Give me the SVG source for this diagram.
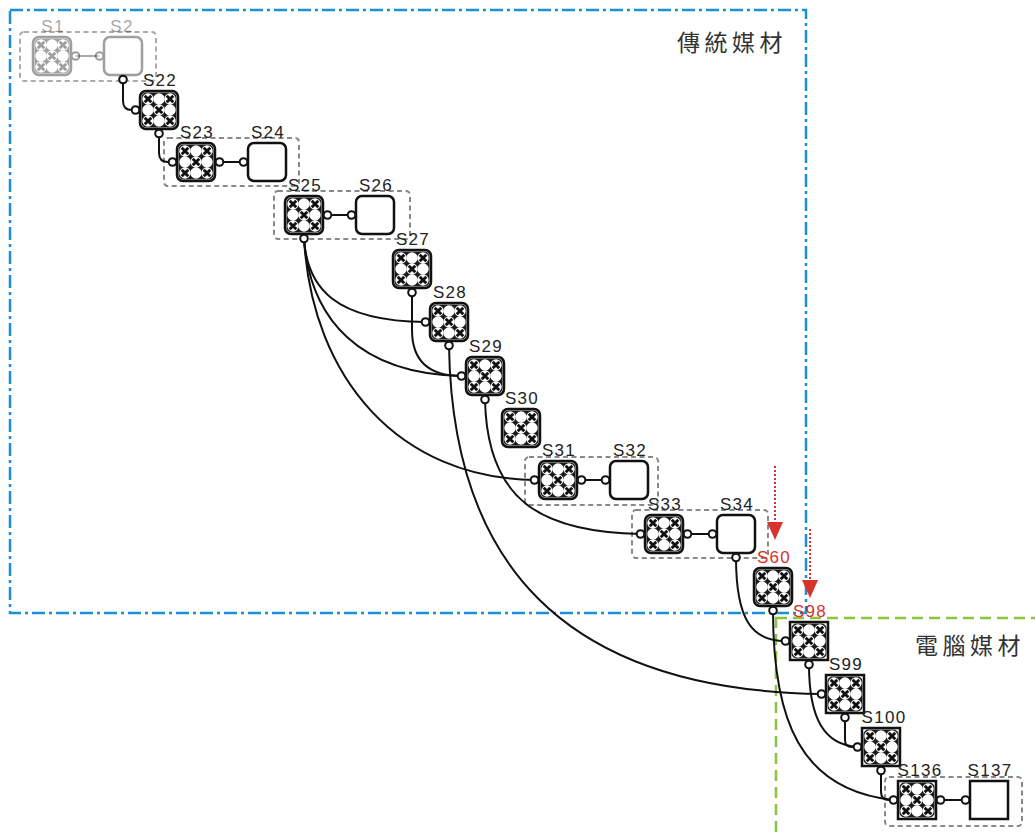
<svg xmlns="http://www.w3.org/2000/svg" xmlns:xlink="http://www.w3.org/1999/xlink" width="1035" height="832" viewBox="0 0 1035 832">
<style>
.nb{fill:none;stroke:#111;stroke-width:2.5}
.pt{fill:#fff;stroke:#111;stroke-width:2}
.ln{fill:none;stroke:#111;stroke-width:2}
.lb{font-family:"Liberation Sans",Arial,sans-serif;font-size:17px;fill:#222;text-anchor:middle;letter-spacing:1.3px}
.red{fill:#d8322a}
.grp{fill:none;stroke:#888;stroke-width:2;stroke-dasharray:5 3.5}
.ttl{font-family:"Noto Sans CJK TC","Noto Sans CJK SC",sans-serif;font-size:23px;fill:#333;letter-spacing:4.5px}
.arr{stroke:#d8322a;stroke-width:2;stroke-dasharray:2 2;fill:none}
</style>
<defs>
<symbol id="xf" viewBox="0 0 38 38">
<rect x="1.5" y="1.5" width="35" height="35" rx="5" fill="#1a1a1a"/>
<g fill="#fff">
<circle cx="8" cy="8" r="5.7"/><circle cx="19" cy="8" r="5.7"/><circle cx="30" cy="8" r="5.7"/>
<circle cx="8" cy="19" r="5.7"/><circle cx="19" cy="19" r="5.7"/><circle cx="30" cy="19" r="5.7"/>
<circle cx="8" cy="30" r="5.7"/><circle cx="19" cy="30" r="5.7"/><circle cx="30" cy="30" r="5.7"/>
</g>
<path d="M4.7,4.7L11.3,11.3M11.3,4.7L4.7,11.3M26.7,4.7L33.3,11.3M33.3,4.7L26.7,11.3M15.7,15.7L22.3,22.3M22.3,15.7L15.7,22.3M4.7,26.7L11.3,33.3M11.3,26.7L4.7,33.3M26.7,26.7L33.3,33.3M33.3,26.7L26.7,33.3" stroke="#111" stroke-width="2.9"/>
</symbol>
</defs>
<rect width="1035" height="832" fill="#fff"/>

<g id="regions">
<rect x="10" y="10" width="796" height="603" fill="none" stroke="#1a8fd8" stroke-width="2.5" stroke-dasharray="13 4 3 4"/>
<rect x="776" y="618" width="300" height="300" fill="none" stroke="#8cc43f" stroke-width="2.5" stroke-dasharray="11 6"/>
<text class="ttl" x="677" y="51">傳統媒材</text>
<text class="ttl" x="915" y="654">電腦媒材</text>
</g>

<g id="groups">
<rect class="grp" x="20" y="32" width="136" height="49" rx="4" opacity="0.7"/>
<rect class="grp" x="164" y="138" width="135" height="48" rx="4"/>
<rect class="grp" x="274" y="191" width="136" height="48" rx="4"/>
<rect class="grp" x="525" y="457" width="133" height="48" rx="4"/>
<rect class="grp" x="632" y="510" width="136" height="48" rx="4"/>
<rect class="grp" x="885" y="777" width="137" height="49" rx="4"/>
</g>

<g id="connectors">
<path d="M75.5,56H99.5" stroke="#aaa" stroke-width="2" fill="none"/>
<path class="ln" d="M123,79.5V101Q123,110 132,110H135.5"/>
<path class="ln" d="M159,133.5V153Q159,162 168,162H172.5"/>
<path class="ln" d="M219.5,162H243.5"/>
<path class="ln" d="M327.5,215H351.5"/>
<path class="ln" d="M304,238.5C307,288 335,321 425.5,322"/>
<path class="ln" d="M304,238.5C310,320 360,374 461.5,376"/>
<path class="ln" d="M304,238.5C312,380 400,478 534.5,480"/>
<path class="ln" d="M412,292.5V330C412,362 430,376 461.5,376"/>
<path class="ln" d="M449,345.5C452,560 560,690 821.5,694"/>
<path class="ln" d="M485,399.5C487,500 540,532 640.5,534"/>
<path class="ln" d="M581.5,480H605.5"/>
<path class="ln" d="M687.5,534H712.5"/>
<path class="ln" d="M736,557.5C736,620 752,641 785.5,641"/>
<path class="ln" d="M773,610.5C773,720 800,790 893.5,800"/>
<path class="ln" d="M809,664.5C809,720 825,745 857.5,747"/>
<path class="ln" d="M845,717.5V740Q845,747 852,747H857.5"/>
<path class="ln" d="M881,770.5V792Q881,800 889,800H893.5"/>
<path class="ln" d="M940.5,800H965.5"/>
</g>

<g id="arrows">
<path class="arr" d="M775,466V524"/>
<polygon points="767,522 783,522 775,540" fill="#d8322a"/>
<path class="arr" d="M810,529V582"/>
<polygon points="802,580 818,580 810,598" fill="#d8322a"/>
</g>

<g id="S1" opacity="0.4">
<use xlink:href="#xf" x="33" y="37" width="38" height="38"/>
<rect class="nb" x="33" y="37" width="38" height="38" rx="6"/>
<circle class="pt" cx="75.5" cy="56" r="3.8"/>
<text class="lb" x="53" y="32">S1</text>
</g>
<g id="S2" opacity="0.4">
<rect class="nb" x="104" y="37" width="38" height="38" rx="6" fill="#fff"/>
<circle class="pt" cx="99.5" cy="56" r="3.8"/>
<text class="lb" x="122" y="32">S2</text>
</g>
<g id="S2port"><circle class="pt" cx="123" cy="79.5" r="3.8"/></g>

<g id="S22">
<use xlink:href="#xf" x="140" y="91" width="38" height="38"/>
<rect class="nb" x="140" y="91" width="38" height="38" rx="6"/>
<circle class="pt" cx="135.5" cy="110" r="3.8"/><circle class="pt" cx="159" cy="133.5" r="3.8"/>
<text class="lb" x="160" y="86">S22</text>
</g>
<g id="S23">
<use xlink:href="#xf" x="177" y="143" width="38" height="38"/>
<rect class="nb" x="177" y="143" width="38" height="38" rx="6"/>
<circle class="pt" cx="172.5" cy="162" r="3.8"/><circle class="pt" cx="219.5" cy="162" r="3.8"/>
<text class="lb" x="197" y="138">S23</text>
</g>
<g id="S24">
<rect class="nb" x="248" y="143" width="38" height="38" rx="6"/>
<circle class="pt" cx="243.5" cy="162" r="3.8"/>
<text class="lb" x="268" y="138">S24</text>
</g>
<g id="S25">
<use xlink:href="#xf" x="285" y="196" width="38" height="38"/>
<rect class="nb" x="285" y="196" width="38" height="38" rx="6"/>
<circle class="pt" cx="327.5" cy="215" r="3.8"/><circle class="pt" cx="304" cy="238.5" r="3.8"/>
<text class="lb" x="305" y="191">S25</text>
</g>
<g id="S26">
<rect class="nb" x="356" y="196" width="38" height="38" rx="6"/>
<circle class="pt" cx="351.5" cy="215" r="3.8"/>
<text class="lb" x="376" y="191">S26</text>
</g>
<g id="S27">
<use xlink:href="#xf" x="393" y="250" width="38" height="38"/>
<rect class="nb" x="393" y="250" width="38" height="38" rx="6"/>
<circle class="pt" cx="412" cy="292.5" r="3.8"/>
<text class="lb" x="413" y="245">S27</text>
</g>
<g id="S28">
<use xlink:href="#xf" x="430" y="303" width="38" height="38"/>
<rect class="nb" x="430" y="303" width="38" height="38" rx="6"/>
<circle class="pt" cx="425.5" cy="322" r="3.8"/><circle class="pt" cx="449" cy="345.5" r="3.8"/>
<text class="lb" x="450" y="298">S28</text>
</g>
<g id="S29">
<use xlink:href="#xf" x="466" y="357" width="38" height="38"/>
<rect class="nb" x="466" y="357" width="38" height="38" rx="6"/>
<circle class="pt" cx="461.5" cy="376" r="3.8"/><circle class="pt" cx="485" cy="399.5" r="3.8"/>
<text class="lb" x="486" y="352">S29</text>
</g>
<g id="S30">
<use xlink:href="#xf" x="502" y="409" width="38" height="38"/>
<rect class="nb" x="502" y="409" width="38" height="38" rx="6"/>
<text class="lb" x="522" y="404">S30</text>
</g>
<g id="S31">
<use xlink:href="#xf" x="539" y="461" width="38" height="38"/>
<rect class="nb" x="539" y="461" width="38" height="38" rx="6"/>
<circle class="pt" cx="534.5" cy="480" r="3.8"/><circle class="pt" cx="581.5" cy="480" r="3.8"/>
<text class="lb" x="559" y="456">S31</text>
</g>
<g id="S32">
<rect class="nb" x="610" y="461" width="38" height="38" rx="6"/>
<circle class="pt" cx="605.5" cy="480" r="3.8"/>
<text class="lb" x="630" y="456">S32</text>
</g>
<g id="S33">
<use xlink:href="#xf" x="645" y="515" width="38" height="38"/>
<rect class="nb" x="645" y="515" width="38" height="38" rx="6"/>
<circle class="pt" cx="640.5" cy="534" r="3.8"/><circle class="pt" cx="687.5" cy="534" r="3.8"/>
<text class="lb" x="665" y="510">S33</text>
</g>
<g id="S34">
<rect class="nb" x="717" y="515" width="38" height="38" rx="6"/>
<circle class="pt" cx="712.5" cy="534" r="3.8"/><circle class="pt" cx="736" cy="557.5" r="3.8"/>
<text class="lb" x="737" y="510">S34</text>
</g>
<g id="S60">
<use xlink:href="#xf" x="754" y="568" width="38" height="38"/>
<rect class="nb" x="754" y="568" width="38" height="38" rx="6"/>
<circle class="pt" cx="773" cy="610.5" r="3.8"/>
<text class="lb red" x="774" y="563">S60</text>
</g>
<g id="S98">
<use xlink:href="#xf" x="790" y="622" width="38" height="38"/>
<rect class="nb" x="790" y="622" width="38" height="38"/>
<circle class="pt" cx="785.5" cy="641" r="3.8"/><circle class="pt" cx="809" cy="664.5" r="3.8"/>
<text class="lb red" x="810" y="617">S98</text>
</g>
<g id="S99">
<use xlink:href="#xf" x="826" y="675" width="38" height="38"/>
<rect class="nb" x="826" y="675" width="38" height="38"/>
<circle class="pt" cx="821.5" cy="694" r="3.8"/><circle class="pt" cx="845" cy="717.5" r="3.8"/>
<text class="lb" x="846" y="670">S99</text>
</g>
<g id="S100">
<use xlink:href="#xf" x="862" y="728" width="38" height="38"/>
<rect class="nb" x="862" y="728" width="38" height="38"/>
<circle class="pt" cx="857.5" cy="747" r="3.8"/><circle class="pt" cx="881" cy="770.5" r="3.8"/>
<text class="lb" x="884" y="723">S100</text>
</g>
<g id="S136">
<use xlink:href="#xf" x="898" y="781" width="38" height="38"/>
<rect class="nb" x="898" y="781" width="38" height="38"/>
<circle class="pt" cx="893.5" cy="800" r="3.8"/><circle class="pt" cx="940.5" cy="800" r="3.8"/>
<text class="lb" x="920" y="776">S136</text>
</g>
<g id="S137">
<rect class="nb" x="970" y="781" width="38" height="38"/>
<circle class="pt" cx="965.5" cy="800" r="3.8"/>
<text class="lb" x="990" y="776">S137</text>
</g>
</svg>
